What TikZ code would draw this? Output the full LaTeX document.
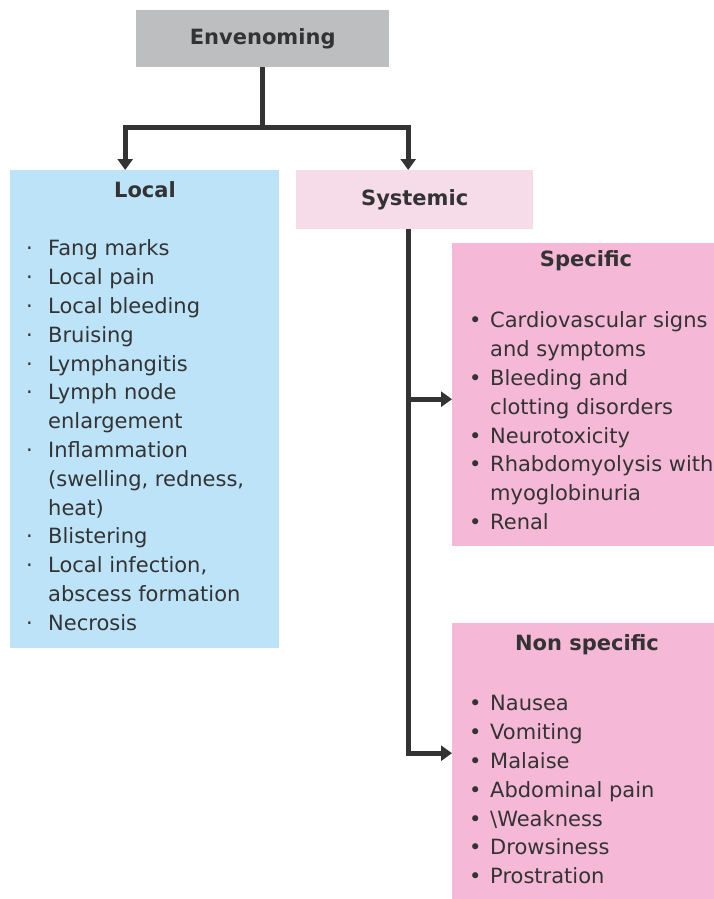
\documentclass[tikz,border=0pt]{standalone}
\usepackage{fontspec}
\setmainfont{DejaVu Sans}
\usetikzlibrary{arrows.meta}

\definecolor{envgray}{HTML}{BCBEC0}
\definecolor{localblue}{HTML}{BDE3F9}
\definecolor{syspink}{HTML}{F6DCE9}
\definecolor{specpink}{HTML}{F5B9D7}
\definecolor{inkgray}{HTML}{333333}

\newcommand{\listfont}{\fontsize{21}{28.8}\selectfont}
\newcommand{\titlefont}{\fontsize{21}{25}\selectfont}
\newcommand{\dotb}{\makebox[22pt][l]{·}}
\newcommand{\bulb}{\makebox[21pt][l]{•}}
\newcommand{\contl}{\hspace*{22pt}}
\newcommand{\conts}{\hspace*{21pt}}

\begin{document}
\begin{tikzpicture}[x=1pt,y=-1pt,
    box/.style={rectangle,inner sep=0pt,anchor=north west,font=\bfseries\titlefont,text=inkgray},
    title/.style={font=\bfseries\titlefont,text=inkgray,inner sep=0pt},
    list/.style={font=\listfont,text=inkgray,inner sep=0pt,anchor=north west},
    conn/.style={draw=inkgray,line width=4.8pt},
    arr/.style={conn,-{Triangle[length=11pt,width=15pt]}}]

      \useasboundingbox (0,0) rectangle (714,899);

      \node[box,fill=envgray,minimum width=253pt,minimum height=57pt] (env) at (136,10) {Envenoming};
      \node[box,fill=localblue,minimum width=269pt,minimum height=478pt] (local) at (10,170) {};
      \node[box,fill=syspink,minimum width=237pt,minimum height=59pt] (sys) at (296,170) {Systemic};
      \node[box,fill=specpink,minimum width=262pt,minimum height=303pt] (spec) at (452,243) {};
      \node[box,fill=specpink,minimum width=262pt,minimum height=276pt] (nonspec) at (452,623) {};

      \node[title] (localtitle) at (145,190) {Local};
      \node[title] (spectitle) at (586,261) {Specific};
      \node[title] (nonspectitle) at (587,645) {Non specific};

      \node[list] (locallist) at (26,235.5) {\begin{tabular}{@{}l@{}}
        \dotb Fang marks\\
        \dotb Local pain\\
        \dotb Local bleeding\\
        \dotb Bruising\\
        \dotb Lymphangitis\\
        \dotb Lymph node\\
        \contl enlargement\\
        \dotb Inflammation\\
        \contl (swelling, redness,\\
        \contl heat)\\
        \dotb Blistering\\
        \dotb Local infection,\\
        \contl abscess formation\\
        \dotb Necrosis
      \end{tabular}};

      \node[list] (speclist) at (469,307.5) {\begin{tabular}{@{}l@{}}
        \bulb Cardiovascular signs\\
        \conts and symptoms\\
        \bulb Bleeding and\\
        \conts clotting disorders\\
        \bulb Neurotoxicity\\
        \bulb Rhabdomyolysis with\\
        \conts myoglobinuria\\
        \bulb Renal
      \end{tabular}};

      \node[list] (nonspeclist) at (469,690.5) {\begin{tabular}{@{}l@{}}
        \bulb Nausea\\
        \bulb Vomiting\\
        \bulb Malaise\\
        \bulb Abdominal pain\\
        \bulb \textbackslash Weakness\\
        \bulb Drowsiness\\
        \bulb Prostration
      \end{tabular}};

      \coordinate (split) at ([yshift=-60pt]env.south);
      \coordinate (trunk) at ([xshift=-6.5pt]sys.south);
      \coordinate (specin) at ([yshift=-4.5pt]spec.west);
      \coordinate (nonspecin) at ([yshift=8pt]nonspec.west);

      \draw[conn] (env.south) -- (split);
      \draw[arr] (split) -| ([xshift=-19.5pt]local.north);
      \draw[arr] (split) -| ([xshift=-6.5pt]sys.north);
      \draw[arr] (trunk) |- (nonspecin);
      \draw[arr] (trunk |- specin) -- (specin);

    \end{tikzpicture}
\end{document}
